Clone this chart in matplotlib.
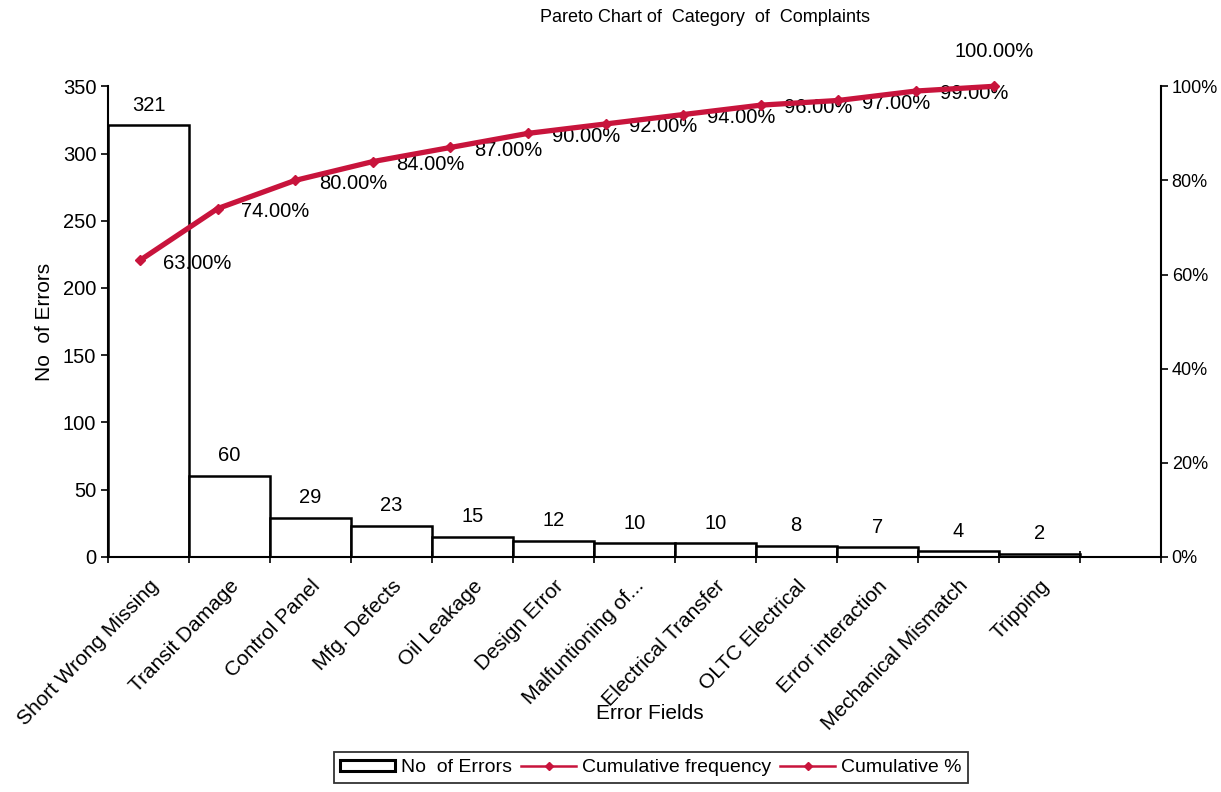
import matplotlib
matplotlib.use("Agg")
import matplotlib.pyplot as plt
from matplotlib.lines import Line2D
from matplotlib.patches import Patch

plt.rcParams['font.family'] = ['Liberation Sans', 'DejaVu Sans']

# ---------------------- data ----------------------
categories = ["Short Wrong Missing", "Transit Damage", "Control Panel", "Mfg. Defects",
              "Oil Leakage", "Design Error", "Malfuntioning of...", "Electrical Transfer",
              "OLTC Electrical", "Error interaction", "Mechanical Mismatch", "Tripping"]
errors = [321, 60, 29, 23, 15, 12, 10, 10, 8, 7, 4, 2]
cum_pct = [63, 74, 80, 84, 87, 90, 92, 94, 96, 97, 99, 100]

red = "#c8143c"
fs = 14.5

fig = plt.figure(figsize=(12.21, 7.92), dpi=100)
ax = fig.add_axes([0.0885, 0.297, 0.862, 0.594])

x = list(range(len(categories)))
ax.bar(x, errors, width=1.0, color="white", edgecolor="black", linewidth=1.8)
for xi, v in zip(x, errors):
    ax.text(xi, v + 8, str(v), ha="center", va="bottom", fontsize=fs)

ax.set_xlim(-0.5, 12.5)
ax.set_ylim(0, 350)
ax.set_yticks(range(0, 351, 50))
ax.tick_params(axis="y", labelsize=fs, length=5, width=1.2, direction="out")
ax.set_xticks(x)
ax.set_xticklabels(categories, rotation=46, ha="right", rotation_mode="anchor", fontsize=15)
ax.tick_params(axis="x", length=0, pad=14)
ax.set_xticks([i - 0.5 for i in range(14)], minor=True)
ax.tick_params(axis="x", which="minor", length=8, width=1.2, direction="inout")
for s in ["top", "right"]:
    ax.spines[s].set_visible(False)
ax.spines["left"].set_linewidth(1.5)
ax.spines["bottom"].set_linewidth(1.5)
ax.set_ylabel("No  of Errors", fontsize=15, labelpad=6)
ax.set_xlabel("Error Fields", fontsize=15)
ax.xaxis.set_label_coords(0.515, -0.314)

# secondary y axis (percent)
ax2 = ax.twinx()
ax2.set_ylim(0, 1)
ax2.set_yticks([0, 0.2, 0.4, 0.6, 0.8, 1.0])
ax2.set_yticklabels(["0%", "20%", "40%", "60%", "80%", "100%"])
ax2.tick_params(axis="y", labelsize=13, length=5, width=1.2, direction="out", pad=3)
for s in ["top", "left", "bottom"]:
    ax2.spines[s].set_visible(False)
ax2.spines["right"].set_linewidth(1.5)

# secondary x axis for the cumulative line
ax3 = ax2.twiny()
ax3.set_xlim(-0.41, 13.15)
ax3.set_xticks([])
for s in ax3.spines.values():
    s.set_visible(False)
pct = [p / 100 for p in cum_pct]
ax3.plot(x, pct, color=red, linewidth=3.8, marker="D", markersize=5, zorder=5, clip_on=False)
for xi, p in zip(x, cum_pct):
    lbl = f"{p:.2f}%"
    if p == 100:
        ax3.annotate(lbl, (xi, p / 100), xytext=(0, 18), textcoords="offset points",
                     ha="center", va="bottom", fontsize=fs)
    else:
        ax3.annotate(lbl, (xi, p / 100), xytext=(17, -2), textcoords="offset points",
                     ha="left", va="center", fontsize=fs)

fig.text(0.577, 0.978, "Pareto Chart of  Category  of  Complaints", ha="center", va="center", fontsize=13)

handles = [Patch(facecolor="white", edgecolor="black", linewidth=2.2),
           Line2D([], [], color=red, marker="D", markersize=4, linewidth=1.8),
           Line2D([], [], color=red, marker="D", markersize=4, linewidth=1.8)]
leg = fig.legend(handles, ["No  of Errors", "Cumulative frequency", "Cumulative %"],
                 loc="center", bbox_to_anchor=(0.533, 0.031), ncol=3, fontsize=14,
                 frameon=True, fancybox=False, edgecolor="black", handlelength=2.8,
                 handleheight=0.5, columnspacing=0.5, handletextpad=0.3, borderpad=0.35)
leg.get_frame().set_linewidth(1.3)

fig.savefig("out.png", dpi=100)
